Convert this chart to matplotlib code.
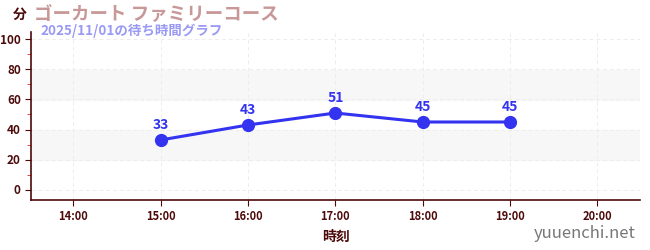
import matplotlib
matplotlib.use("Agg")
import matplotlib.pyplot as plt
from matplotlib.ticker import MultipleLocator, FixedLocator

plt.rcParams['font.family'] = ['Noto Sans CJK JP', 'DejaVu Sans']

# === data ===
hours = [15, 16, 17, 18, 19]
waits = [33, 43, 51, 45, 45]
tick_hours = [14, 15, 16, 17, 18, 19, 20]
tick_labels = ["14:00", "15:00", "16:00", "17:00", "18:00", "19:00", "20:00"]

title = "ゴーカート ファミリーコース"
subtitle = "2025/11/01の待ち時間グラフ"

dark = "#4d0a0a"
line_color = "#3333f0"

fig = plt.figure(figsize=(6.5, 2.5), dpi=100)
ax = fig.add_axes([0.048, 0.2, 0.937, 0.672])

ax.set_xlim(13.52, 20.49)
ax.set_ylim(-7, 105)

# striped bands
for lo, hi in [(20, 40), (60, 80)]:
    ax.axhspan(lo, hi, color="#f7f7f7", zorder=0)

ax.grid(True, color="#ededed", linestyle=(0, (4, 3)), linewidth=0.7, zorder=0)
ax.set_axisbelow(True)

ax.plot(hours, waits, color=line_color, linewidth=2.2, marker="o", markersize=8.5, zorder=3)
for h, w in zip(hours, waits):
    ax.annotate(str(w), (h, w), xytext=(0, 6), textcoords="offset points",
                ha="center", va="bottom", color=line_color, fontsize=10, fontweight="bold")

ax.xaxis.set_major_locator(FixedLocator(tick_hours))
ax.set_xticklabels(tick_labels)
ax.yaxis.set_major_locator(MultipleLocator(20))
ax.yaxis.set_minor_locator(MultipleLocator(10))

for s in ["top", "right"]:
    ax.spines[s].set_visible(False)
for s in ["left", "bottom"]:
    ax.spines[s].set_color(dark)
    ax.spines[s].set_linewidth(1.2)

ax.tick_params(axis="both", which="major", colors=dark, labelsize=8.5, length=4)
ax.tick_params(axis="y", which="minor", color="#dd2222", length=3)
for lbl in ax.get_xticklabels() + ax.get_yticklabels():
    lbl.set_fontweight("bold")
ax.tick_params(axis="x", labelsize=8)

ax.set_xlabel("時刻", color=dark, fontsize=10, fontweight="bold", labelpad=5)

fig.text(0.031, 0.94, "分", color=dark, fontsize=10, fontweight="bold", ha="center", va="center")
fig.text(0.052, 0.94, title, color="#c89898", fontsize=13.3, fontweight="bold", ha="left", va="center")
fig.text(0.063, 0.875, subtitle, color="#9a9af5", fontsize=9.7, fontweight="bold", ha="left", va="center")
fig.text(0.978, 0.065, "yuuenchi.net", color="#777777", fontsize=12, ha="right", va="center")

fig.savefig("out.png", dpi=100)
